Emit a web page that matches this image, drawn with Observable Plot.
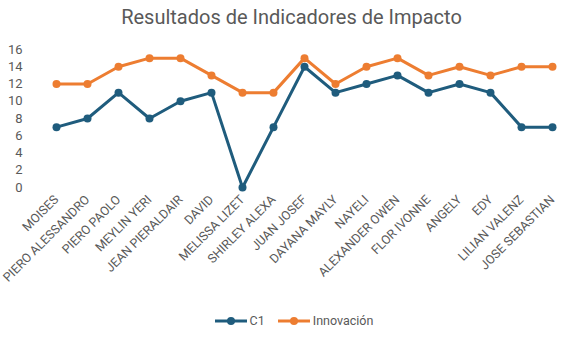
<!DOCTYPE html>
<html>
<head>
<meta charset="utf-8">
<script src="https://cdn.jsdelivr.net/npm/d3@7"></script>
<script src="https://cdn.jsdelivr.net/npm/@observablehq/plot@0.6"></script>
<style>
  body { margin: 0; background: #fff; font-family: Roboto, "Noto Sans", sans-serif; }
  #wrap { width: 577px; height: 350px; position: relative; overflow: hidden; }
  #title { height: 36px; line-height: 34px; text-align: center; font-size: 20px; color: #595959; padding-left: 6px; }
  #legend { position: absolute; top: 313px; left: 0; width: 577px; display: flex; justify-content: center; gap: 12px; font-size: 12.5px; color: #595959; padding-left: 10px; box-sizing: border-box; }
  .item { display: flex; align-items: center; gap: 2px; }
</style>
</head>
<body>
<div id="wrap">
  <div id="title">Resultados de Indicadores de Impacto</div>
  <div id="chart"></div>
  <div id="legend"></div>
</div>
<script>
const names = ["MOISES","PIERO ALESSANDRO","PIERO PAOLO","MEYLIN YERI","JEAN PIERALDAIR","DAVID","MELISSA LIZET","SHIRLEY ALEXA","JUAN JOSEF","DAYANA MAYLY","NAYELI","ALEXANDER OWEN","FLOR IVONNE","ANGELY","EDY","LILIAN VALENZ","JOSE SEBASTIAN"];
const c1 = [7,8,11,8,10,11,0,7,14,11,12,13,11,12,11,7,7];
const innovacion = [12,12,14,15,15,13,11,11,15,12,14,15,13,14,13,14,14];
const seriesNames = ["C1", "Innovación"];
const seriesColors = ["#1f5c7d", "#ed7d31"];
const yTicks = [0,2,4,6,8,10,12,14,16];

const data = [];
names.forEach((n, i) => {
  data.push({name: n, value: c1[i], series: seriesNames[0]});
  data.push({name: n, value: innovacion[i], series: seriesNames[1]});
});

const chart = Plot.plot({
  width: 577,
  height: 270,
  marginTop: 13,
  marginLeft: 36,
  marginRight: 6,
  marginBottom: 119,
  style: {fontFamily: "Roboto, 'Noto Sans', sans-serif", color: "#595959"},
  x: {type: "point", domain: names, padding: 0.5, label: null},
  y: {domain: [0, 16], ticks: yTicks, label: null},
  color: {domain: seriesNames, range: seriesColors},
  marks: [
    Plot.gridY(yTicks, {stroke: "#d9d9d9", strokeOpacity: 1, strokeWidth: 1, x1: 36, x2: 571}),
    Plot.axisY({ticks: yTicks, tickSize: 0, tickPadding: 14, fontSize: 13, fill: "#595959"}),
    Plot.axisX({tickSize: 0, tickRotate: -45, tickPadding: 10, fontSize: 12.5, fill: "#595959"}),
    Plot.line(data, {x: "name", y: "value", z: "series", stroke: "series", strokeWidth: 3}),
    Plot.dot(data, {x: "name", y: "value", fill: "series", r: 4})
  ]
});
document.getElementById("chart").appendChild(chart);

const legend = document.getElementById("legend");
seriesNames.forEach((s, i) => {
  const item = document.createElement("div");
  item.className = "item";
  item.innerHTML = `<svg width="34" height="12"><line x1="1" y1="6" x2="33" y2="6" stroke="${seriesColors[i]}" stroke-width="3"/><circle cx="17" cy="6" r="4" fill="${seriesColors[i]}"/></svg><span>${s}</span>`;
  legend.appendChild(item);
});
</script>
</body>
</html>
